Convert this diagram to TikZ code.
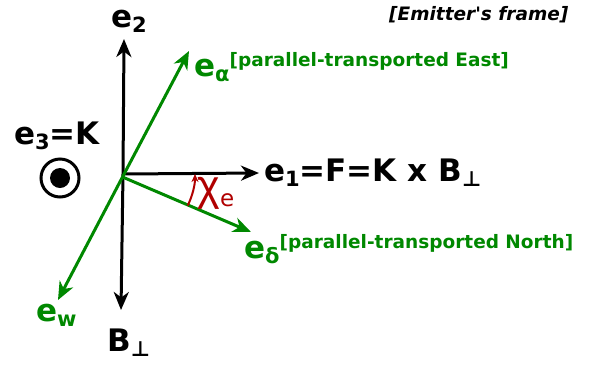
\documentclass[tikz,border=0pt]{standalone}
\usepackage{fontspec}
\setmainfont{DejaVu Sans}[Ligatures=TeXOff]
\newfontfamily\chifont{Liberation Sans}
\usetikzlibrary{arrows.meta}
\definecolor{vgreen}{RGB}{0,136,0}
\definecolor{vred}{RGB}{176,0,0}
\tikzset{
  vec/.style={line width=3pt, -{Stealth[length=18pt,width=15pt,inset=5.5pt]}},
  gvec/.style={vec, vgreen},
  lbl/.style={inner sep=0pt, anchor=base west, font=\bfseries\fontsize{31}{31}\selectfont},
  glbl/.style={lbl, text=vgreen}
}
\newcommand{\supt}[1]{\raisebox{10pt}{\fontsize{18.5}{18.5}\selectfont #1}}
\newcommand{\subt}[1]{\raisebox{-5pt}{\fontsize{21}{21}\selectfont #1}}
\begin{document}
\begin{tikzpicture}[x=1pt,y=-1pt]
\useasboundingbox (0,0) rectangle (593,365);
\coordinate (O) at (123,174);
\coordinate (G) at (122.5,177);
\coordinate (e2t) at (124,39);
\coordinate (bt) at (121,310);
\coordinate (e1t) at (259,173);
\coordinate (eat) at (189,51);
\coordinate (edt) at (251,232);
\coordinate (ewt) at (58,300);
\draw[vec] (O) -- (e2t);
\draw[vec] (O) -- (bt);
\draw[vec] (O) -- (e1t);
\draw[gvec] (G) -- (eat);
\draw[gvec] (G) -- (edt);
\draw[gvec] (G) -- (ewt);
\draw[vred, line width=2pt, -{Stealth[length=8pt,width=7pt,inset=2.5pt]}] (O) ++(26:72) arc[start angle=26, end angle=0, radius=72];
\node[lbl] (e2) at (111,27) {e\subt{2}};
\node[lbl] (e3) at (14,144) {e\subt{3}=K};
\node[lbl] (e1) at (264,181) {e\subt{1}=F=K x B\subt{⊥}};
\node[glbl] (ea) at (194,76) {e\subt{α}\supt{[parallel-transported East]}};
\node[glbl] (ed) at (244,258) {e\subt{δ}\supt{[parallel-transported North]}};
\node[glbl] (ew) at (36,321) {e\subt{w}};
\node[lbl] (bp) at (107,351) {B\subt{⊥}};
\node[inner sep=0pt, anchor=base west, text=vred, font=\chifont\fontsize{43}{43}\selectfont] (chi) at (197,200) {χ};
\node[inner sep=0pt, anchor=base west, text=vred, font=\fontsize{23}{23}\selectfont] (chie) at (220,206) {e};
\node[inner sep=0pt, anchor=base west, font=\bfseries\itshape\fontsize{18.5}{18.5}\selectfont] (fr) at (389,20) {[Emitter's frame]};
\draw[line width=3pt] (60,178) circle[radius=19];
\fill (60,178) circle[radius=10];
\end{tikzpicture}
\end{document}
